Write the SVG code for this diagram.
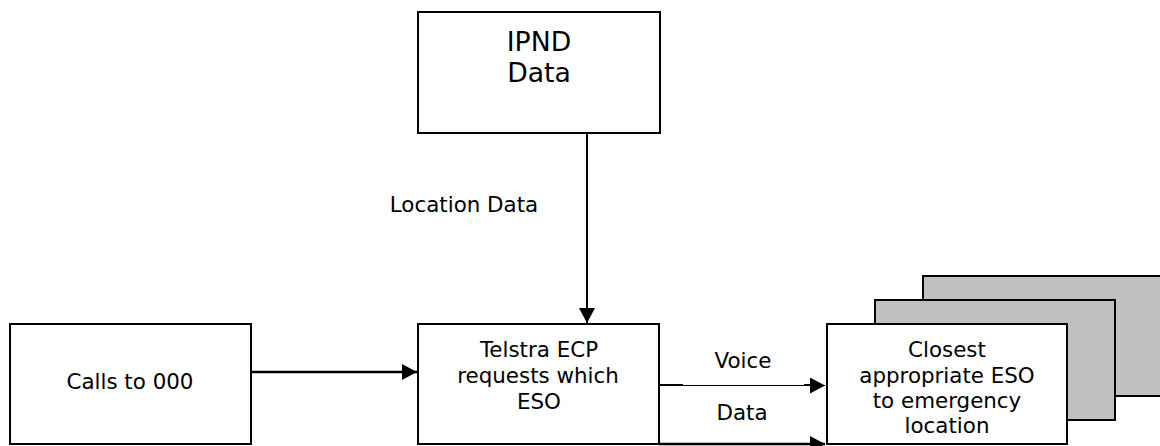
<svg xmlns="http://www.w3.org/2000/svg" width="1160" height="446" viewBox="0 0 1160 446">
<style>
.box{fill:#fff;stroke:#000;stroke-width:2}
.grey{fill:#c0c0c0;stroke:#000;stroke-width:2}
.t{font-family:"DejaVu Sans","Verdana",sans-serif;font-size:21.4px;fill:#000;text-anchor:middle}
.big{font-size:26.7px}
.ln{stroke:#000;fill:none}
</style>
<defs>
<marker id="ah" markerUnits="userSpaceOnUse" markerWidth="16" markerHeight="16" refX="15" refY="8" orient="auto">
<path d="M0,0 L15,8 L0,16 Z" fill="#000"/>
</marker>
</defs>
<g id="ipnd">
<rect class="box" x="418" y="12" width="242" height="121"/>
<text class="t big" x="539" y="51">IPND</text>
<text class="t big" x="539" y="82">Data</text>
</g>
<g id="calls">
<rect class="box" x="10" y="324" width="241" height="120"/>
<text class="t" x="130" y="389">Calls to 000</text>
</g>
<g id="telstra">
<rect class="box" x="418" y="324" width="241" height="120"/>
<text class="t" x="539" y="357">Telstra ECP</text>
<text class="t" x="538" y="383">requests which</text>
<text class="t" x="539" y="409">ESO</text>
</g>
<g id="eso">
<rect class="grey" x="923" y="276" width="242" height="120"/>
<rect class="grey" x="875" y="300" width="240" height="120"/>
<rect class="box" x="827" y="324" width="240" height="120"/>
<text class="t" x="947" y="357">Closest</text>
<text class="t" x="947" y="383">appropriate ESO</text>
<text class="t" x="947" y="408">to emergency</text>
<text class="t" x="947" y="433">location</text>
</g>
<g id="connectors">
<line class="ln" x1="587" y1="133" x2="587" y2="323" stroke-width="2" marker-end="url(#ah)"/>
<text class="t" x="464" y="212">Location Data</text>
<line class="ln" x1="251" y1="372" x2="417" y2="372" stroke-width="2.5" marker-end="url(#ah)"/>
<line class="ln" x1="659" y1="385.5" x2="825" y2="385.5" stroke-width="1" marker-end="url(#ah)"/>
<line class="ln" x1="659" y1="385" x2="683" y2="385" stroke-width="2"/>
<line class="ln" x1="804" y1="385" x2="812" y2="385" stroke-width="2"/>
<text class="t" x="743" y="368">Voice</text>
<line class="ln" x1="659" y1="444" x2="825" y2="444" stroke-width="2.5" marker-end="url(#ah)"/>
<text class="t" x="742" y="420">Data</text>
</g>
</svg>
